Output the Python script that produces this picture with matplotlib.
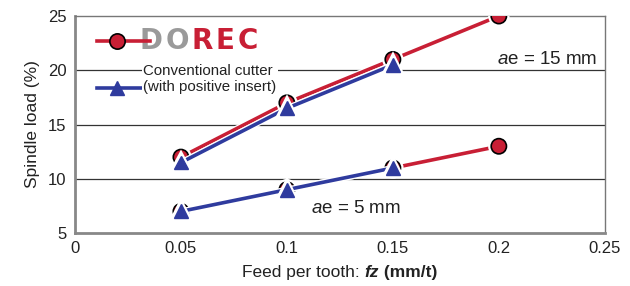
import matplotlib
matplotlib.use("Agg")
import matplotlib.pyplot as plt
import matplotlib.patheffects as pe
from matplotlib.offsetbox import TextArea, HPacker, AnnotationBbox

plt.rcParams['font.family'] = ['Liberation Sans', 'DejaVu Sans']
plt.rcParams['mathtext.fontset'] = 'custom'
plt.rcParams['mathtext.rm'] = 'Liberation Sans'
plt.rcParams['mathtext.it'] = 'Liberation Sans:italic'
plt.rcParams['mathtext.bf'] = 'Liberation Sans:bold'

# data
fz_dorec = [0.05, 0.1, 0.15, 0.2]
fz_conv = [0.05, 0.1, 0.15]
dorec_15 = [12, 17, 21, 25]
conv_15 = [11.5, 16.5, 20.5]
dorec_5 = [7, 9, 11, 13]
conv_5 = [7, 9, 11]
xticks = [0, 0.05, 0.1, 0.15, 0.2, 0.25]
xtick_labels = ['0', '0.05', '0.1', '0.15', '0.2', '0.25']
yticks = [5, 10, 15, 20, 25]

RED = '#c81f35'
BLUE = '#2f3b9e'
outline = [pe.Stroke(linewidth=4.4, foreground='white'), pe.Normal()]

fig = plt.figure(figsize=(6.3, 2.86), dpi=100)
ax = fig.add_axes([0.119, 0.185, 0.841, 0.759])

for y in [10, 15, 20]:
    ax.axhline(y, color='#333333', lw=0.9, zorder=1)

ax.plot(fz_dorec, dorec_15, color=RED, lw=2.6, marker='o', ms=11,
        mfc=RED, mec='black', mew=1.2, zorder=3, path_effects=outline)
ax.plot(fz_conv, conv_15, color=BLUE, lw=2.6, marker='^', ms=10,
        mfc=BLUE, mec=BLUE, zorder=4, path_effects=outline)
ax.plot(fz_dorec, dorec_5, color=RED, lw=2.6, marker='o', ms=11,
        mfc=RED, mec='black', mew=1.2, zorder=3, path_effects=outline)
ax.plot(fz_conv, conv_5, color=BLUE, lw=2.6, marker='^', ms=10,
        mfc=BLUE, mec=BLUE, zorder=4, path_effects=outline)

ax.set_xlim(0, 0.25)
ax.set_ylim(5, 25)
ax.set_xticks(xticks)
ax.set_xticklabels(xtick_labels)
ax.set_yticks(yticks)
ax.tick_params(axis='both', length=0, labelsize=12, colors='#222222', pad=6)
ax.set_xticks([0.15, 0.2], minor=True)
ax.tick_params(axis='x', which='minor', direction='in', length=6, color='#777777', width=1)

for s in ['left', 'bottom']:
    ax.spines[s].set_color('#888888')
    ax.spines[s].set_linewidth(2)
for s in ['top', 'right']:
    ax.spines[s].set_color('#777777')
    ax.spines[s].set_linewidth(1)

ax.set_ylabel('Spindle load (%)', fontsize=12.5, color='#222222', labelpad=6)

# x label with bold italic fz
parts = [TextArea('Feed per tooth: ', textprops=dict(fontsize=12.5, color='#222222')),
         TextArea('fz', textprops=dict(fontsize=12.5, color='#222222', weight='bold', style='italic')),
         TextArea(' (mm/t)', textprops=dict(fontsize=12.5, color='#222222', weight='bold'))]
xl = HPacker(children=parts, align='baseline', pad=0, sep=0)
ab = AnnotationBbox(xl, (0.5, -0.18), xycoords='axes fraction', frameon=False,
                    box_alignment=(0.5, 0.5), annotation_clip=False)
ax.add_artist(ab)

ax.text(0.985, 0.80, r'$a$e = 15 mm', transform=ax.transAxes, ha='right', va='center',
        fontsize=13.5, color='#222222')
ax.text(0.53, 0.115, r'$a$e = 5 mm', transform=ax.transAxes, ha='center', va='center',
        fontsize=13.5, color='#222222')

# hand made legend
ax.plot([0.0415, 0.142], [0.885, 0.885], transform=ax.transAxes, color=RED, lw=2.6,
        zorder=5, clip_on=False)
ax.plot([0.079], [0.885], transform=ax.transAxes, marker='o', ms=11, mfc=RED,
        mec='black', mew=1.2, zorder=6, clip_on=False)
ax.plot([0.0415, 0.142], [0.667, 0.667], transform=ax.transAxes, color=BLUE, lw=2.6,
        zorder=5, clip_on=False)
ax.plot([0.079], [0.667], transform=ax.transAxes, marker='^', ms=10, mfc=BLUE,
        mec=BLUE, zorder=6, clip_on=False)

logo_letters = [('D', '#9a9a9a'), ('O', '#9a9a9a'), ('R', RED), ('E', RED), ('C', RED)]
logo = HPacker(children=[TextArea(ch, textprops=dict(fontsize=20, color=c, weight='bold',
                                                     family='DejaVu Sans'))
                         for ch, c in logo_letters],
               align='baseline', pad=0, sep=2)
ax.add_artist(AnnotationBbox(logo, (0.122, 0.885), xycoords='axes fraction', frameon=False,
                             box_alignment=(0, 0.5)))

ax.text(0.129, 0.71, 'Conventional cutter\n(with positive insert)', transform=ax.transAxes,
        ha='left', va='center', fontsize=10.8, color='#222222', linespacing=1.2,
        bbox=dict(facecolor='white', edgecolor='none', pad=1), zorder=5)

fig.savefig('out.png', dpi=100)
